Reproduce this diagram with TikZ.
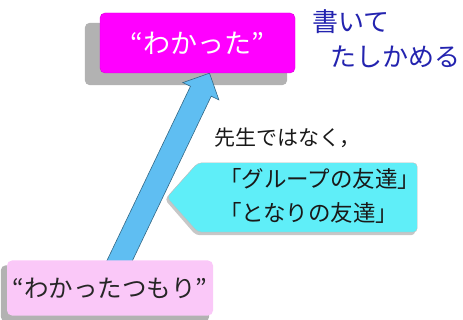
\documentclass[tikz,border=0pt]{standalone}
\usepackage{fontspec}
\setmainfont{Noto Sans CJK JP}
\usetikzlibrary{positioning,calc}
\definecolor{wkmagenta}{RGB}{255,0,255}
\definecolor{wkpink}{RGB}{250,200,248}
\definecolor{wksky}{RGB}{95,190,242}
\definecolor{wkcyan}{RGB}{95,238,248}
\definecolor{wkblue}{RGB}{35,35,175}
\pgfdeclarelayer{bg}
\pgfdeclarelayer{mid}
\pgfsetlayers{bg,mid,main}
\tikzset{
    %Define style for boxes
    hako/.style={
           rectangle,
           rounded corners=5pt,
           inner sep=0pt,
           text centered},
    wakaru/.style={hako, fill=wkmagenta, draw=wkmagenta!85!black, text=white,
           font=\fontsize{27}{30}\selectfont},
    tsumoribox/.style={hako, fill=wkpink, text=black!85,
           font=\fontsize{24.5}{28}\selectfont},
    % texts
    aomoji/.style={inner sep=0pt, text=wkblue, font=\fontsize{26}{30}\selectfont},
    kuromoji/.style={inner sep=0pt, text=black!90, font=\fontsize{21}{24}\selectfont},
    tomo/.style={inner sep=0pt, align=left, text=black!90,
           font=\fontsize{22.5}{34}\selectfont},
    % shadows and the big arrow
    kage/.style={fill=black!30, rounded corners=5pt},
    yajirushi/.style={fill=wksky, draw=wksky!55!black, line width=0.6pt, line join=miter}
}
\begin{document}
\begin{tikzpicture}[x=1pt,y=-1pt]
\useasboundingbox (0,0) rectangle (463,320);
\node[wakaru, minimum width=195pt, minimum height=60pt] (wakatta) at (197.5,43) {“わかった”};
\node[tsumoribox, minimum width=206pt, minimum height=55pt] (tsumori) at (110,288) {“わかったつもり”};
\node[aomoji, anchor=west] (kaite) at (312,21.5) {書いて};
\node[aomoji, anchor=west] (tashikameru) at (330,57) {たしかめる};
% callout shape, its text sits inside
\node[minimum width=219pt, minimum height=69pt, inner sep=0pt] (callout) at (307.5,197.5) {};
\node[tomo, anchor=west, yshift=1.5pt] (tomodachi) at ([xshift=21pt]callout.west)
    {「グループの友達」\\「となりの友達」};
\node[kuromoji, above=15pt of callout, xshift=-20pt] (sensei) {先生ではなく，};
% shadows and callout
\begin{pgfonlayer}{bg}
\fill[kage] ([shift={(-15,10)}]wakatta.north west) rectangle ([shift={(-8,12)}]wakatta.south east);
\fill[kage] ([shift={(-6,5)}]tsumori.north west) rectangle ([shift={(-4,6)}]tsumori.south east);
\fill[black!22, rounded corners=4pt] ([shift={(-2,2)}]callout.north east) -- ([shift={(-2,3)}]callout.south east)
    -- ([shift={(-2,3)}]callout.south west) -- ([shift={(-33,2)}]callout.west)
    -- ([shift={(-2,2)}]callout.north west) -- cycle;
\filldraw[fill=wkcyan, draw=black!25, rounded corners=4pt] (callout.north east) -- (callout.south east)
    -- (callout.south west) -- ([xshift=-31pt]callout.west)
    -- (callout.north west) -- cycle;
\end{pgfonlayer}
% big arrow
\coordinate (s) at ([xshift=6pt,yshift=-8pt]tsumori.north);
\coordinate (t) at ([xshift=12pt]wakatta.south);
\coordinate (h) at ($(t)!20pt!(s)$);
\begin{pgfonlayer}{mid}
\draw[yajirushi] ($(s)!11.5pt!90:(t)$) -- ($(h)!11.5pt!90:(t)$) -- ($(h)!20pt!90:(t)$) -- (t)
    -- ($(h)!20pt!-90:(t)$) -- ($(h)!11.5pt!-90:(t)$) -- ($(s)!11.5pt!-90:(t)$) -- cycle;
\end{pgfonlayer}
\end{tikzpicture}
\end{document}
